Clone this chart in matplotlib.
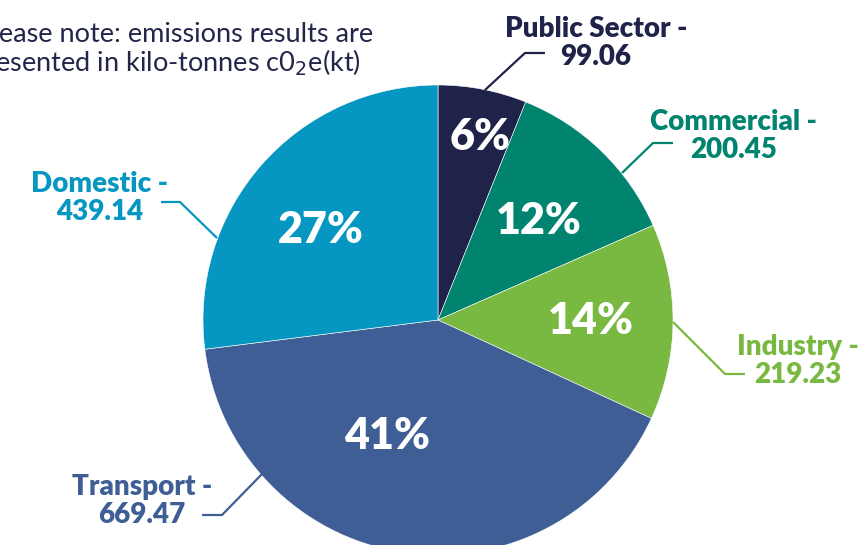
import matplotlib
matplotlib.use("Agg")
import matplotlib.pyplot as plt
import math

# emissions by sector, kilo-tonnes CO2e
sectors = ["Public Sector", "Commercial", "Industry", "Transport", "Domestic"]
emissions = [99.06, 200.45, 219.23, 669.47, 439.14]
pct_labels = ["6%", "12%", "14%", "41%", "27%"]
value_labels = ["99.06", "200.45", "219.23", "669.47", "439.14"]

colors = ["#1f2349", "#00836f", "#7ab941", "#3e5e95", "#0596c1"]

W, H = 868, 545
cx, cy, R = 438, 320, 235


def px(x, y):
    return x, H - y


# label placement (pixels, y down)
name_pos = [(596, 43), (734, 136), (798, 361), (142, 501), (100, 198)]
pct_r = [0.80, 0.60, 0.65, 0.54, 0.63]
pct_dang = [-2, -1.5, 0, -15, 4]
leaders = [
    [(485, 90), (525, 53), (545, 53)],
    [(622, 173), (653, 143), (673, 143)],
    [(673, 322), (725, 374), (745, 374)],
    [(263, 473), (222, 515), (202, 515)],
    [(217, 238), (180, 202), (161, 202)],
]

fig = plt.figure(figsize=(W / 100, H / 100), dpi=100)
ax = fig.add_axes([0, 0, 1, 1])

wedges, _ = ax.pie(emissions, colors=colors, startangle=90, counterclock=False,
                   center=px(cx, cy), radius=R, frame=True,
                   wedgeprops=dict(edgecolor="white", linewidth=0.4))

ax.set_xlim(0, W)
ax.set_ylim(0, H)
ax.axis("off")

for i, w in enumerate(wedges):
    ang = math.radians((w.theta1 + w.theta2) / 2 + pct_dang[i])
    r = pct_r[i] * R
    x = cx + r * math.cos(ang)
    y = cy - r * math.sin(ang)
    ax.text(*px(x, y), pct_labels[i], color="white", fontsize=31,
            fontweight="heavy", family="Lato", ha="center", va="center")

    pts = [px(a, b) for a, b in leaders[i]]
    ax.plot([p[0] for p in pts], [p[1] for p in pts], color=colors[i], lw=1.6,
            solid_capstyle="butt")

    ax.text(*px(*name_pos[i]), f"{sectors[i]} -\n{value_labels[i]}",
            color=colors[i], fontsize=20, fontweight="heavy", family="Lato",
            ha="center", va="center", multialignment="center", linespacing=1.1)

ax.text(*px(373, 35), "Please note: emissions results are", color="#23264a",
        fontsize=19.5, family="Lato", ha="right", va="center")
ax.text(*px(361, 63), "presented in kilo-tonnes c0$_2$e(kt)", color="#23264a",
        fontsize=19.5, family="Lato", ha="right", va="center")

fig.savefig("out.png", dpi=100)
